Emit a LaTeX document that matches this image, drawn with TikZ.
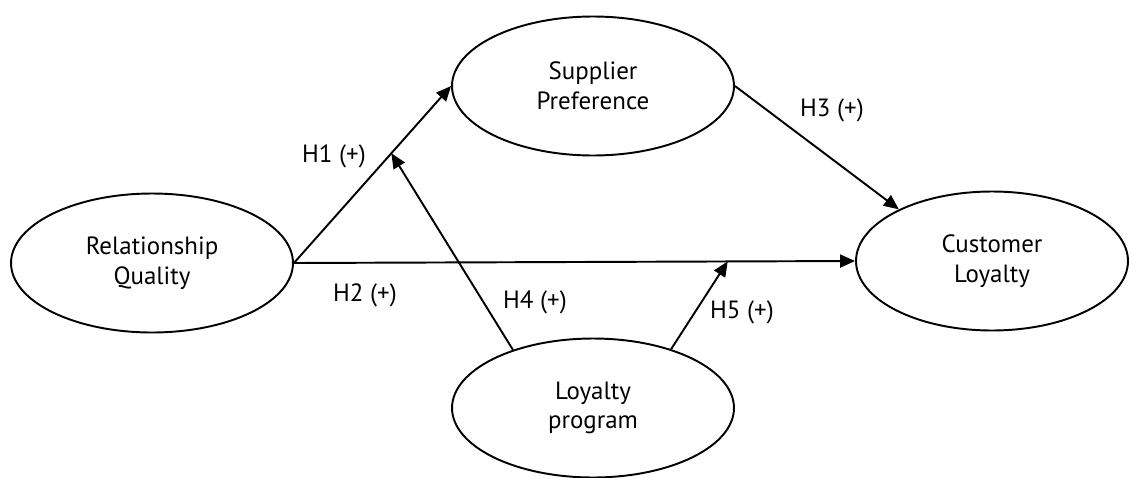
\documentclass[tikz,border=0pt]{standalone}
\usepackage{fontspec}
\setmainfont{PT Sans}
\usetikzlibrary{arrows.meta,positioning,shapes.geometric,calc}

\begin{document}
\begin{tikzpicture}[
    x=0.02cm, y=-0.02cm,
    font=\fontsize{14.2}{16.8}\selectfont,
    % construct ellipses
    construct/.style={
        draw=black,
        ellipse,
        line width=1.1pt,
        align=center,
        inner sep=0pt,
        minimum width=5.64cm,
        minimum height=2.78cm
    },
    % hypothesis arrows
    hyp/.style={
        line width=1.1pt,
        -{Triangle[length=0.3cm,width=0.26cm]}
    },
    % hypothesis labels
    hlabel/.style={
        inner sep=0pt
    }
]
    \useasboundingbox (0,0) rectangle (1129,477);

    % --- 1. constructs ---
    \node[construct] (rq) at (152,263) {Relationship\\Quality};
    \node[construct] (sp) at (593,86) {Supplier\\Preference};
    \node[construct, minimum width=5.44cm] (cl) at (992,261) {Customer\\Loyalty};
    \node[construct] (lp) at (593,408) {Loyalty\\program};

    % --- 2. direct paths ---
    \draw[hyp] (rq.east) -- (sp.west);
    \draw[hyp] (rq.east) -- (cl.west);
    \draw[hyp] (sp.east) -- (cl.151);

    % --- 3. moderating paths ---
    \coordinate (m1) at ($(rq.east)!0.62!(sp.west)$);
    \coordinate (m2) at ($(rq.east)!0.773!(cl.west)$);
    \draw[hyp] (lp.144) -- (m1);
    \draw[hyp] (lp.37) -- (m2);

    % --- 4. labels ---
    \node[hlabel] (h1) at (334,156) {H1 (+)};
    \node[hlabel] (h2) at (365,295) {H2 (+)};
    \node[hlabel] (h3) at (832,110) {H3 (+)};
    \node[hlabel] (h4) at (535,302) {H4 (+)};
    \node[hlabel] (h5) at (742,312) {H5 (+)};

\end{tikzpicture}
\end{document}
